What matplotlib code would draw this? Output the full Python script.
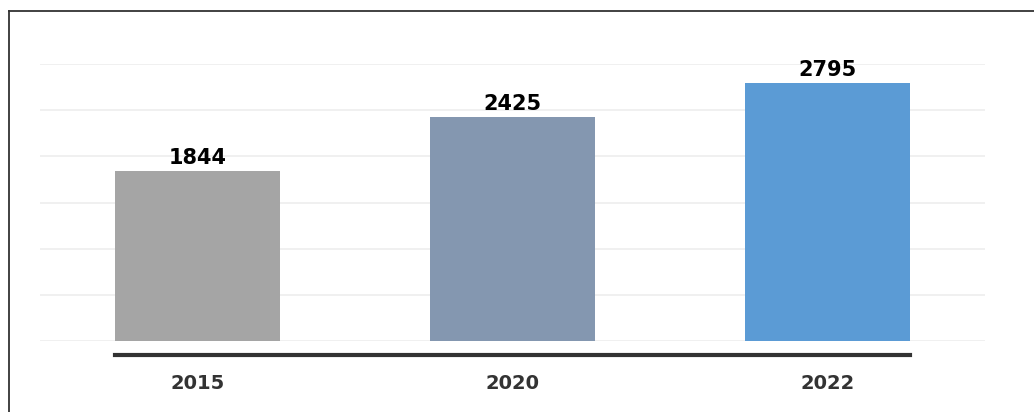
import matplotlib
matplotlib.use('Agg')
import matplotlib.pyplot as plt
from matplotlib.lines import Line2D

years = ['2015', '2020', '2022']
values = [1844, 2425, 2795]
colors = ['#A5A5A5', '#8497B0', '#5B9BD5']
yticks = [0, 500, 1000, 1500, 2000, 2500, 3000]

fig = plt.figure(figsize=(10.34, 4.12), dpi=100)
ax = fig.add_axes([40 / 1034, 1 - 341 / 412, 945 / 1034, 277 / 412])

x = list(range(len(years)))
bars = ax.bar(x, values, width=0.524, color=colors, zorder=2)
ax.set_xlim(-0.5, 2.5)
ax.set_ylim(0, 3000)

for s in ['top', 'right', 'left']:
    ax.spines[s].set_visible(False)
# dark base line under the bars, offset downward (set before ticks: it resets them)
ax.spines['bottom'].set_position(('outward', 10))
ax.spines['bottom'].set_linewidth(3)
ax.spines['bottom'].set_color('#333333')
ax.spines['bottom'].set_bounds(bars[0].get_x(), bars[-1].get_x() + bars[-1].get_width())

ax.set_yticks(yticks)
ax.yaxis.grid(True, color='#EDEDED', linewidth=1.2, zorder=0)
ax.tick_params(axis='y', left=False, labelleft=False)
ax.set_xticks(x)
ax.set_xticklabels(years, fontsize=14, fontweight='bold', color='#333333')
ax.tick_params(axis='x', bottom=False, pad=10)

ax.bar_label(bars, labels=[str(v) for v in values], padding=2,
             fontsize=15, fontweight='bold', color='black')

# frame around the figure (left and top visible)
fig.add_artist(Line2D([8.5 / 1034, 8.5 / 1034], [0, 1 - 11 / 412],
                      transform=fig.transFigure, color='#333333', linewidth=1.3))
fig.add_artist(Line2D([8.5 / 1034, 1], [1 - 11 / 412, 1 - 11 / 412],
                      transform=fig.transFigure, color='#333333', linewidth=1.3))

plt.savefig('out.png', dpi=100)
plt.close()
